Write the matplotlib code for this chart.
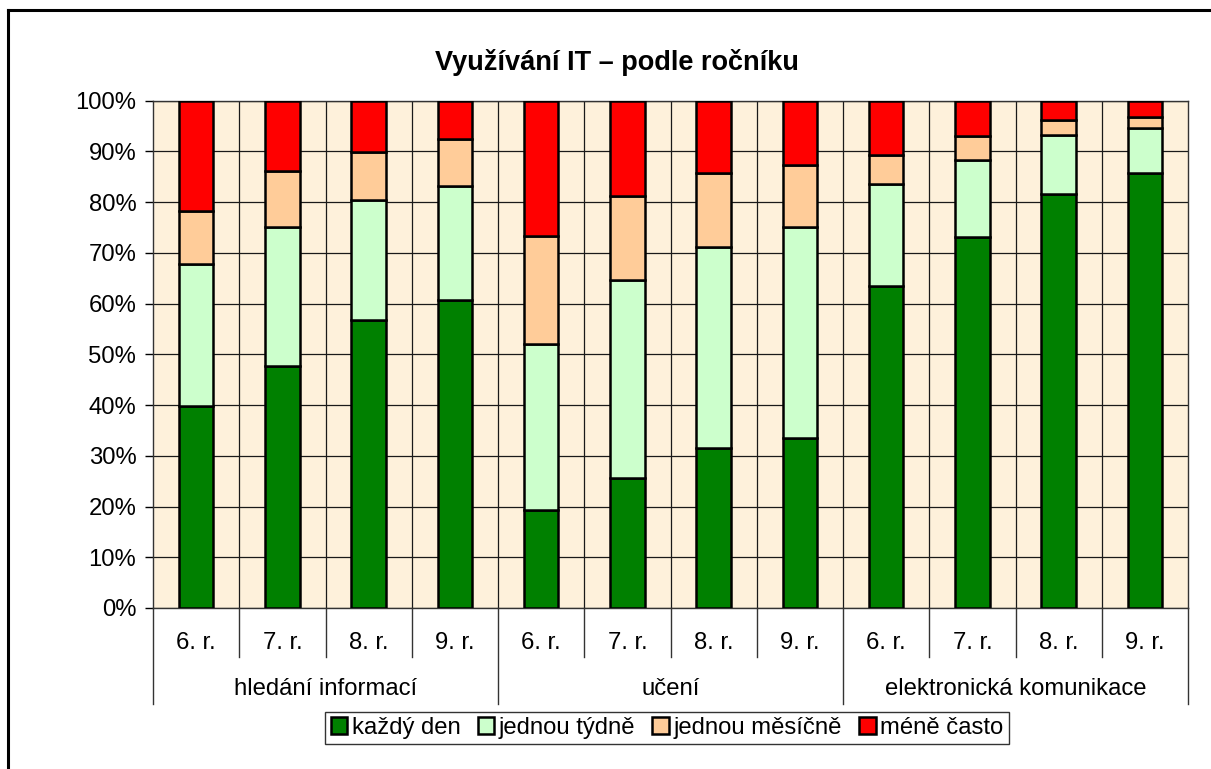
"""Stacked 100 % bar chart: use of IT by school year (Excel-style look)."""

import matplotlib.pyplot as plt
from matplotlib.lines import Line2D
from matplotlib.ticker import MultipleLocator, FixedLocator, PercentFormatter
import numpy as np

plt.rcParams["font.family"] = ["Liberation Sans", "DejaVu Sans"]

groups = ["hledání informací", "učení", "elektronická komunikace"]
grades = ["6. r.", "7. r.", "8. r.", "9. r."]
series = ["každý den", "jednou týdně", "jednou měsíčně", "méně často"]

# cumulative tops (percent), one per bar
top_daily = [39.8, 47.8, 56.7, 60.8, 19.3, 25.6, 31.6, 33.5, 63.4, 73.2, 81.7, 85.7]
top_weekly = [67.9, 75.1, 80.4, 83.1, 52.0, 64.6, 71.1, 75.1, 83.6, 88.3, 93.2, 94.6]
top_monthly = [78.3, 86.1, 89.8, 92.4, 73.3, 81.2, 85.8, 87.4, 89.2, 93.0, 96.1, 96.7]
top_less = [100.0] * 12

colors = ["#008000", "#CCFFCC", "#FFCC99", "#FF0000"]
bg = "#FEF1DB"
fs = 17.2

fig = plt.figure(figsize=(12.11, 7.69), dpi=100)
W, H = 1211, 769
ax = fig.add_axes([153 / W, 1 - 608 / H, (1188 - 153) / W, (608 - 100.7) / H])
ax.set_facecolor(bg)

tops = [top_daily, top_weekly, top_monthly, top_less]
x = np.arange(len(groups) * len(grades))
bottom = np.zeros(len(x))
for name, top, col in zip(series, tops, colors):
    top = np.array(top)
    ax.bar(x, top - bottom, bottom=bottom, width=0.4, color=col,
           edgecolor="black", linewidth=1.8, label=name, zorder=3)
    bottom = top

ax.set_xlim(-0.5, len(x) - 0.5)
ax.set_ylim(0, 100)
ax.yaxis.set_major_locator(MultipleLocator(10))
ax.yaxis.set_major_formatter(PercentFormatter(decimals=0))
ax.tick_params(axis="y", length=6, width=1, pad=6, labelsize=fs)
ax.set_xticks([])
ax.xaxis.set_minor_locator(FixedLocator(np.arange(0.5, len(x) - 0.5, 1)))
ax.tick_params(axis="x", which="minor", length=0)
ax.grid(axis="y", which="major", color="#1a1a1a", linewidth=0.9, zorder=1)
ax.grid(axis="x", which="minor", color="#1a1a1a", linewidth=0.9, zorder=1)
ax.set_axisbelow(True)
for s in ax.spines.values():
    s.set_color("#333333")
    s.set_linewidth(1.0)

# multi-level category axis below the plot
trans = ax.get_xaxis_transform()
y_grade = -0.0966
y_group = -0.189
for i in range(len(x) + 1):
    xb = i - 0.5
    depth = y_group if i % len(grades) == 0 else y_grade
    ax.add_line(Line2D([xb, xb], [0, depth], transform=trans, color="#333333",
                       linewidth=1.0, clip_on=False))
for i in x:
    ax.text(i, -0.069, grades[i % len(grades)], transform=trans,
            ha="center", va="center", fontsize=fs)
for g, name in enumerate(groups):
    xc = g * len(grades) + (len(grades) - 1) / 2
    ax.text(xc, -0.159, name, transform=trans, ha="center", va="center",
            fontsize=fs)

fig.text(616.5 / W, 1 - 62 / H, "Využívání IT – podle ročníku",
         ha="center", va="center", fontsize=19.5, fontweight="bold")

leg = fig.legend(loc="center", bbox_to_anchor=(667 / W, 1 - 728 / H), ncol=4,
                 fontsize=fs, frameon=True, fancybox=False, edgecolor="black",
                 handlelength=0.7, handleheight=0.7, handletextpad=0.18,
                 columnspacing=0.72, borderpad=0.22, borderaxespad=0)
leg.get_frame().set_linewidth(1.0)
for h in leg.legend_handles:
    h.set_linewidth(1.8)

# outer chart border (top and left visible in the crop)
fig.add_artist(Line2D([8 / W, 1.0], [1 - 10 / H, 1 - 10 / H], color="black", linewidth=2.2))
fig.add_artist(Line2D([8 / W, 8 / W], [0.0, 1 - 10 / H], color="black", linewidth=2.2))

fig.savefig("out.png", dpi=100)
